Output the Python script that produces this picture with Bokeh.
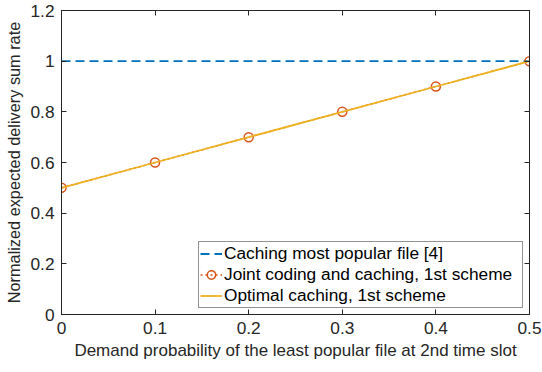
from bokeh.plotting import figure
from bokeh.models import LinearAxis, FixedTicker, Range1d, Legend, LegendItem
from bokeh.embed import file_html
from bokeh.resources import INLINE

x = [0, 0.1, 0.2, 0.3, 0.4, 0.5]
most_popular = [1, 1, 1, 1, 1, 1]
joint_coding = [0.5, 0.6, 0.7, 0.8, 0.9, 1.0]
optimal = [0.5, 0.6, 0.7, 0.8, 0.9, 1.0]

x_ticks = [0, 0.1, 0.2, 0.3, 0.4, 0.5]
x_tick_labels = ["0", "0.1", "0.2", "0.3", "0.4", "0.5"]
y_ticks = [0, 0.2, 0.4, 0.6, 0.8, 1.0, 1.2]
y_tick_labels = ["0", "0.2", "0.4", "0.6", "0.8", "1", "1.2"]

FONT = "Liberation Sans"
AX = "#262626"

p = figure(width=542, height=372, output_backend="svg", toolbar_location=None,
           x_range=Range1d(0, 0.5), y_range=Range1d(0, 1.2),
           min_border_left=61, min_border_right=13, min_border_top=10, min_border_bottom=58,
           x_axis_label="Demand probability of the least popular file at 2nd time slot",
           y_axis_label="Normalized expected delivery sum rate")
p.xgrid.visible = False
p.ygrid.visible = False
p.outline_line_color = AX
p.outline_line_width = 1
p.background_fill_color = "white"
p.border_fill_color = "white"

def style(ax, ticks, labels, show, label_size="16.5px"):
    ax.ticker = FixedTicker(ticks=ticks)
    ax.major_label_overrides = {t: l for t, l in zip(ticks, labels)}
    ax.minor_tick_line_color = None
    ax.major_tick_in = 5
    ax.major_tick_out = 0
    ax.axis_line_color = AX
    ax.major_tick_line_color = AX
    ax.major_label_text_font = FONT
    ax.major_label_text_color = AX
    ax.axis_label_text_font = FONT
    ax.axis_label_text_font_style = "normal"
    ax.axis_label_text_color = AX
    ax.axis_label_text_font_size = label_size
    if show:
        ax.major_label_text_font_size = "17.3px"
        ax.major_label_standoff = 7
        ax.axis_label_standoff = 4
    else:
        ax.major_label_text_font_size = "0px"
        ax.major_label_standoff = 0
        ax.major_label_text_color = None

style(p.xaxis[0], x_ticks, x_tick_labels, True, "17px")
style(p.yaxis[0], y_ticks, y_tick_labels, True, "16.3px")

top = LinearAxis()
right = LinearAxis()
style(top, x_ticks, x_tick_labels, False)
style(right, y_ticks, y_tick_labels, False)
p.add_layout(top, "above")
p.add_layout(right, "right")

r1 = p.line(x, most_popular, line_color="#0072BD", line_width=1.8, line_dash="9 5")
r2 = p.line(x, joint_coding, line_color="#D95319", line_width=1.5, line_dash="2 3")
r2m = p.scatter(x, joint_coding, marker="circle", size=9, fill_color=None,
                line_color="#D95319", line_width=1.5)
r3 = p.line(x, optimal, line_color="#EDB120", line_width=1.8)

legend = Legend(items=[
    LegendItem(label="Caching most popular file [4]", renderers=[r1]),
    LegendItem(label="Joint coding and caching, 1st scheme", renderers=[r2, r2m]),
    LegendItem(label="Optimal caching, 1st scheme", renderers=[r3]),
], location="bottom_right")
legend.margin = 6
legend.padding = 1
legend.spacing = 0
legend.glyph_width = 22
legend.glyph_height = 21
legend.label_height = 21
legend.label_standoff = 2
legend.label_width = 297
legend.label_text_font = FONT
legend.label_text_font_size = "17.3px"
legend.label_text_color = "black"
legend.border_line_color = AX
legend.border_line_width = 1
legend.background_fill_alpha = 1
p.add_layout(legend, "center")

open("out.html", "w").write(file_html(p, INLINE))
